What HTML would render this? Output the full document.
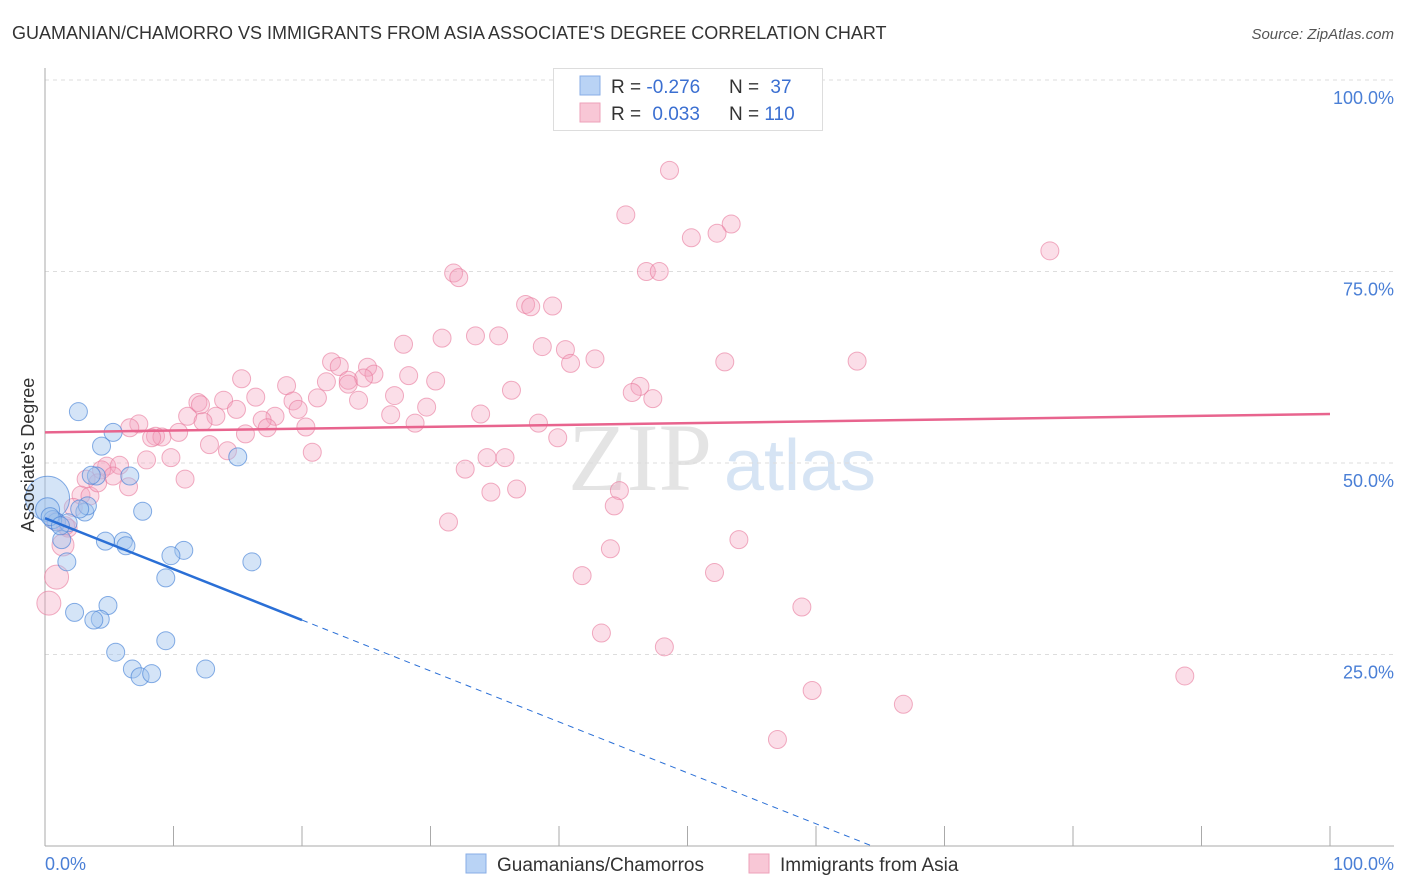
<!DOCTYPE html>
<html><head><meta charset="utf-8"><style>
body{margin:0;background:#fff;font-family:"Liberation Sans",sans-serif;}
svg{display:block}
</style></head><body>
<svg id="chart" width="1406" height="892">
<text x="12" y="39" font-size="18" fill="#333">GUAMANIAN/CHAMORRO VS IMMIGRANTS FROM ASIA ASSOCIATE'S DEGREE CORRELATION CHART</text>
<text x="1394" y="39" font-size="15" fill="#555" font-style="italic" text-anchor="end">Source: ZipAtlas.com</text>
<text x="640" y="490" font-size="96" fill="#e4e4e4" font-family="Liberation Serif,serif" text-anchor="middle">ZIP</text>
<text x="800" y="490" font-size="72" fill="#d6e4f4" text-anchor="middle">atlas</text>
<g id="grid"></g>
<g id="axes"></g>
<g id="marks"></g>
<text transform="translate(34,455) rotate(-90)" font-size="18" fill="#333" text-anchor="middle">Associate's Degree</text>
<text x="45" y="870" font-size="18" fill="#4a7fd6">0.0%</text>
<text x="1394" y="870" font-size="18" fill="#4a7fd6" text-anchor="end">100.0%</text>
<g>
<rect x="553.5" y="68.5" width="269" height="62" fill="#fff" stroke="#ddd"/>
<rect x="580" y="76" width="20" height="19" fill="#b9d3f5" stroke="#88aee6"/>
<rect x="580" y="103" width="20" height="19" fill="#f8c7d6" stroke="#eea2ba"/>
<text x="611" y="93" font-size="19" fill="#333">R = <tspan fill="#3b6fd1">-0.276</tspan></text>
<text x="729" y="93" font-size="19" fill="#333">N = <tspan fill="#3b6fd1" dx="6">37</tspan></text>
<text x="611" y="120" font-size="19" fill="#333">R = <tspan fill="#3b6fd1" dx="6">0.033</tspan></text>
<text x="729" y="120" font-size="19" fill="#333">N = <tspan fill="#3b6fd1">110</tspan></text>
</g>
<g>
<rect x="466" y="854" width="20" height="19" fill="#b9d3f5" stroke="#88aee6"/>
<text x="497" y="871" font-size="19" fill="#333">Guamanians/Chamorros</text>
<rect x="749" y="854" width="20" height="19" fill="#f8c7d6" stroke="#eea2ba"/>
<text x="780" y="871" font-size="19" fill="#333">Immigrants from Asia</text>
</g>
</svg>
<script>
const yTicks=[25,50,75,100];
const yTickLabels=["25.0%","50.0%","75.0%","100.0%"];
const xTicks=[0,10,20,30,40,50,60,70,80,90,100];
const blueX=[2.6,5.3,4.4,15.0,6.6,4.0,0.2,0.2,3.1,7.6,0.9,1.8,1.7,4.7,6.1,6.3,10.8,9.8,16.1,9.4,4.9,2.3,4.3,3.8,9.4,5.5,6.8,12.5,7.4,8.3,0.6,1.3,3.3,2.7,3.6,0.4,1.2];
const blueY=[56.7,54.0,52.2,50.8,48.3,48.3,45.4,43.9,43.6,43.7,42.3,42.2,37.1,39.8,39.8,39.2,38.6,37.9,37.1,35.0,31.4,30.5,29.6,29.5,26.8,25.3,23.1,23.1,22.1,22.5,42.6,40.0,44.4,44.0,48.4,43.0,41.8];
const blueR=[9,9,9,9,9,9,22,12,9,9,9,9,9,9,9,9,9,9,9,9,9,9,9,9,9,9,9,9,9,9,9,9,9,9,9,9,9];
const pinkX=[48.6,45.2,53.4,52.3,50.3,78.2,31.8,32.2,46.8,47.8,37.4,37.8,39.5,30.9,33.5,35.3,27.9,38.7,40.5,42.8,40.9,22.3,52.9,63.2,22.9,25.1,15.3,18.8,21.9,23.6,25.6,28.3,30.4,24.8,23.6,36.3,46.3,45.7,47.3,13.9,11.9,16.4,19.3,21.2,24.4,27.2,29.7,14.9,19.7,17.9,11.1,13.3,12.3,16.9,20.3,26.9,33.9,28.8,38.4,7.3,6.6,10.4,8.6,9.1,8.3,15.6,17.3,12.8,14.2,39.9,20.8,7.9,9.8,34.4,35.8,32.7,4.8,5.8,4.4,5.3,10.9,3.2,2.8,3.5,34.7,36.7,44.7,44.3,2.2,31.4,1.8,1.4,54.0,44.0,0.9,0.3,41.8,52.1,43.3,48.2,58.9,59.7,66.8,88.7,57.0,0.8,1.6,4.1,6.5,12.1];
const pinkY=[88.2,82.4,81.2,80.0,79.4,77.7,74.8,74.2,75.0,75.0,70.7,70.4,70.5,66.3,66.6,66.6,65.5,65.2,64.8,63.6,63.0,63.2,63.2,63.3,62.6,62.5,61.0,60.1,60.6,60.8,61.6,61.4,60.7,61.1,60.3,59.5,60.0,59.2,58.4,58.2,57.9,58.6,58.1,58.5,58.2,58.8,57.3,57.0,57.0,56.1,56.1,56.1,55.4,55.6,54.7,56.3,56.4,55.2,55.2,55.1,54.6,54.0,53.5,53.4,53.3,53.8,54.6,52.4,51.6,53.3,51.4,50.4,50.7,50.7,50.7,49.2,49.6,49.7,49.1,48.3,47.9,47.9,45.8,45.7,46.2,46.6,46.4,44.4,44.2,42.3,41.5,39.3,40.0,38.8,35.1,31.7,35.3,35.7,27.8,26.0,31.2,20.3,18.5,22.2,13.9,42.4,41.8,47.4,46.9,57.6];
const pinkR=[9,9,9,9,9,9,9,9,9,9,9,9,9,9,9,9,9,9,9,9,9,9,9,9,9,9,9,9,9,9,9,9,9,9,9,9,9,9,9,9,9,9,9,9,9,9,9,9,9,9,9,9,9,9,9,9,9,9,9,9,9,9,9,9,9,9,9,9,9,9,9,9,9,9,9,9,9,9,9,9,9,9,9,9,9,9,9,9,9,9,9,11,9,9,12,12,9,9,9,9,9,9,9,9,9,9,9,9,9,9];
const blueTrend=[42.8,-0.665,20];
const pinkTrend=[54.0,0.024,100];
const NS="http://www.w3.org/2000/svg";
const X=v=>45+v*12.85, Y=v=>846-v*7.66;
function mk(t,a,p){const e=document.createElementNS(NS,t);for(const k in a)e.setAttribute(k,a[k]);p.appendChild(e);return e;}
const grid=document.getElementById('grid'),axes=document.getElementById('axes'),marks=document.getElementById('marks');
yTicks.forEach((t,i)=>{
 const l=mk('line',{x1:45,x2:1394,y1:Y(t),y2:Y(t),stroke:'#ddd','stroke-dasharray':'4,4'},grid);
 
 
 const tx=mk('text',{x:1394,y:Y(t)+24,'font-size':18,fill:'#4a7fd6','text-anchor':'end'},grid);
 tx.textContent=yTickLabels[i];
 
 
});
let a=mk('line',{x1:45,x2:45,y1:68,y2:846,stroke:'#aaa'},axes);


a=mk('line',{x1:45,x2:1394,y1:846,y2:846,stroke:'#aaa'},axes);


xTicks.forEach(t=>{
 const l=mk('line',{x1:X(t),x2:X(t),y1:826,y2:846,stroke:'#aaa'},axes);
 
 
});
pinkX.forEach((v,i)=>{
 const c=mk('circle',{cx:X(v),cy:Y(pinkY[i]),r:pinkR[i],fill:'rgba(244,160,188,0.35)',stroke:'rgba(232,120,155,0.6)','stroke-width':1},marks);
 
 
});
blueX.forEach((v,i)=>{
 const c=mk('circle',{cx:X(v),cy:Y(blueY[i]),r:blueR[i],fill:'rgba(160,196,238,0.45)',stroke:'rgba(70,130,215,0.65)','stroke-width':1},marks);
 
 
});
let t=mk('line',{x1:X(0),y1:Y(pinkTrend[0]),x2:X(pinkTrend[2]),y2:Y(pinkTrend[0]+pinkTrend[1]*pinkTrend[2]),stroke:'#e8648e','stroke-width':2.5},marks);


t=mk('line',{x1:X(0),y1:Y(blueTrend[0]),x2:X(blueTrend[2]),y2:Y(blueTrend[0]+blueTrend[1]*blueTrend[2]),stroke:'#2a6fd6','stroke-width':2.5},marks);


const xe=-blueTrend[0]/blueTrend[1];
t=mk('line',{x1:X(blueTrend[2]),y1:Y(blueTrend[0]+blueTrend[1]*blueTrend[2]),x2:X(xe),y2:Y(0),stroke:'#2a6fd6','stroke-width':1,'stroke-dasharray':'6,5'},marks);


</script>
</body></html>
